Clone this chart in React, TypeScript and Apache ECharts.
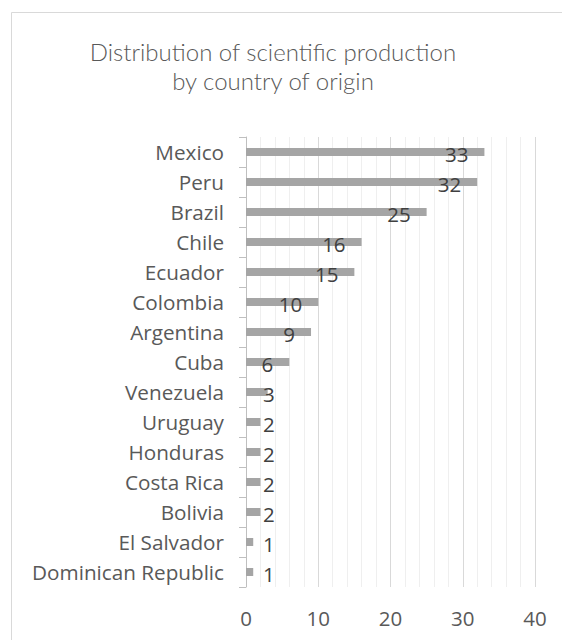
import React, { useEffect, useRef } from "react";
import * as echarts from "echarts";

const titleLines = ["Distribution of scientific production", "by country of origin"];
const countries = [
  "Mexico",
  "Peru",
  "Brazil",
  "Chile",
  "Ecuador",
  "Colombia",
  "Argentina",
  "Cuba",
  "Venezuela",
  "Uruguay",
  "Honduras",
  "Costa Rica",
  "Bolivia",
  "El Salvador",
  "Dominican Republic",
];
const counts = [33, 32, 25, 16, 15, 10, 9, 6, 3, 2, 2, 2, 2, 1, 1];
const axisMin = 0;
const axisMax = 40;
const axisStep = 10;

const FONT = "'Open Sans', 'Noto Sans', sans-serif";
const TITLE_FONT = "Lato, 'Open Sans', sans-serif";

export default function App() {
  const ref = useRef<HTMLDivElement>(null);
  useEffect(() => {
    if (!ref.current) return;
    const chart = echarts.init(ref.current, undefined, { renderer: "svg" });
    const data = counts.map((v) => ({
      value: v,
      label:
        v >= 6
          ? { position: "insideRight", distance: 16 }
          : { position: "insideLeft", distance: 17 },
    }));
    const titleTexts = titleLines.map((t, i) => ({
      type: "text",
      x: 273,
      y: 51.5 + i * 29,
      silent: true,
      style: {
        text: t,
        textAlign: "center",
        textVerticalAlign: "middle",
        fontFamily: TITLE_FONT,
        fontWeight: 300,
        fontSize: 24,
        fill: "#595959",
      },
    }));
    chart.setOption({
      animation: false,
      backgroundColor: "#ffffff",
      graphic: [
        {
          type: "polyline",
          shape: { points: [[11.5, 700], [11.5, 12.5], [570, 12.5]] },
          style: { stroke: "#d9d9d9", lineWidth: 1, fill: "none" },
          silent: true,
        },
        ...titleTexts,
      ],
      grid: { left: 246, top: 137, width: 289, height: 450, containLabel: false },
      xAxis: {
        type: "value",
        min: axisMin,
        max: axisMax,
        interval: axisStep,
        axisLine: { show: false },
        axisTick: { show: false },
        axisLabel: {
          margin: 20,
          fontFamily: FONT,
          fontSize: 20.5,
          color: "#595959",
        },
        splitLine: { show: true, lineStyle: { color: "#d9d9d9", width: 1 } },
        minorTick: { show: false, splitNumber: 5 },
        minorSplitLine: { show: true, lineStyle: { color: "#efefef", width: 1 } },
      },
      yAxis: {
        type: "category",
        data: countries,
        inverse: true,
        axisLine: { show: true, lineStyle: { color: "#bfbfbf", width: 1 } },
        axisTick: { show: true, length: 7, lineStyle: { color: "#bfbfbf" } },
        axisLabel: {
          margin: 22,
          fontFamily: FONT,
          fontSize: 20.7,
          color: "#595959",
        },
        splitLine: { show: false },
      },
      series: [
        {
          type: "bar",
          data,
          barWidth: 8,
          itemStyle: { color: "#a5a5a5" },
          label: {
            show: true,
            fontFamily: FONT,
            fontSize: 20.5,
            color: "#404040",
            offset: [0, 2],
          },
        },
      ],
    });
    return () => chart.dispose();
  }, []);
  return (
    <div
      ref={ref}
      style={{ position: "absolute", left: 0, top: 0, width: 562, height: 640 }}
    />
  );
}
